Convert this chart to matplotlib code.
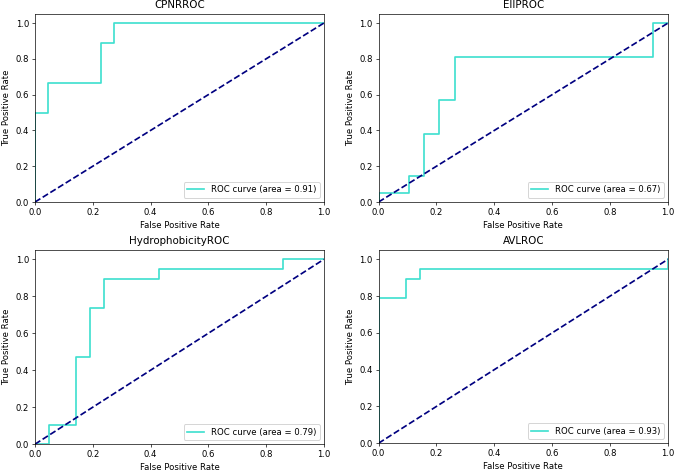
import matplotlib
matplotlib.use("Agg")
import matplotlib.pyplot as plt

titles = ["CPNRROC", "EIIPROC", "HydrophobicityROC", "AVLROC"]
aucs = [0.91, 0.67, 0.79, 0.93]

fpr_cpnr = [0.0, 0.0, 0.0455, 0.0455, 0.2273, 0.2273, 0.2727, 0.2727, 1.0]
tpr_cpnr = [0.0, 0.5, 0.5, 0.6667, 0.6667, 0.8889, 0.8889, 1.0, 1.0]

fpr_eiip = [0.0, 0.0, 0.1053, 0.1053, 0.1579, 0.1579, 0.2105, 0.2105, 0.2632, 0.2632, 0.9474, 0.9474, 1.0]
tpr_eiip = [0.0, 0.0476, 0.0476, 0.1429, 0.1429, 0.3810, 0.3810, 0.5714, 0.5714, 0.8095, 0.8095, 1.0, 1.0]

fpr_hyd = [0.0, 0.0476, 0.0476, 0.1429, 0.1429, 0.1905, 0.1905, 0.2381, 0.2381, 0.4286, 0.4286, 0.8571, 0.8571, 1.0]
tpr_hyd = [0.0, 0.0, 0.1053, 0.1053, 0.4737, 0.4737, 0.7368, 0.7368, 0.8947, 0.8947, 0.9474, 0.9474, 1.0, 1.0]

fpr_avl = [0.0, 0.0, 0.0952, 0.0952, 0.1429, 0.1429, 1.0, 1.0]
tpr_avl = [0.0, 0.7895, 0.7895, 0.8947, 0.8947, 0.9474, 0.9474, 1.0]

fprs = [fpr_cpnr, fpr_eiip, fpr_hyd, fpr_avl]
tprs = [tpr_cpnr, tpr_eiip, tpr_hyd, tpr_avl]

plt.rcParams.update({
    "font.family": "DejaVu Sans",
    "font.size": 8.5,
    "axes.titlesize": 10.2,
    "axes.linewidth": 0.68,
    "xtick.major.size": 3.0,
    "ytick.major.size": 3.0,
    "xtick.major.width": 0.68,
    "ytick.major.width": 0.68,
    "xtick.major.pad": 3.0,
    "ytick.major.pad": 3.0,
})

fig = plt.figure(figsize=(676 / 72, 472 / 72), dpi=72)
positions = [
    [0.0518, 0.572, 0.4272, 0.398],
    [0.560, 0.572, 0.428, 0.398],
    [0.0518, 0.059, 0.4272, 0.411],
    [0.560, 0.061, 0.428, 0.409],
]
for i in range(4):
    ax = fig.add_axes(positions[i])
    ax.plot(fprs[i], tprs[i], color="turquoise", lw=1.7,
            label="ROC curve (area = %0.2f)" % aucs[i])
    ax.plot([0, 1], [0, 1], color="navy", lw=1.7, linestyle="--")
    ax.set_xlim([0.0, 1.0])
    ax.set_ylim([0.0, 1.05])
    ax.set_xlabel("False Positive Rate")
    ax.set_ylabel("True Positive Rate")
    ax.set_title(titles[i])
    ax.legend(loc="lower right")

fig.savefig("out.png", dpi=72)
